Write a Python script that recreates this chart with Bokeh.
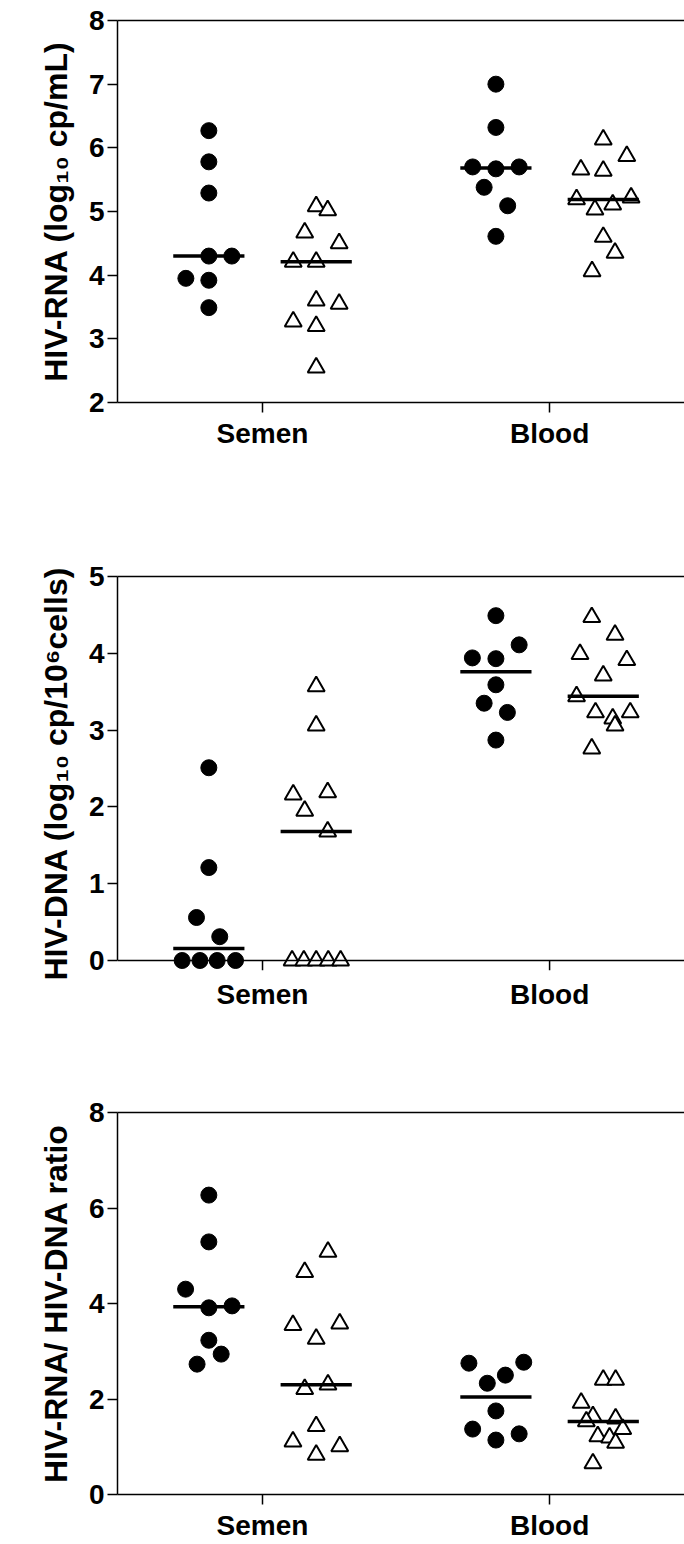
import numpy as np
from bokeh.plotting import figure
from bokeh.models import Range1d, FixedTicker, LinearAxis, Span
from bokeh.layouts import column
from bokeh.embed import file_html
from bokeh.resources import INLINE

# ---------------- data ----------------
categories = ["Semen", "Blood"]

# Panel 1: HIV-RNA (log10 cp/mL)
rna_semen_dot = [6.27, 5.78, 5.29, 4.30, 4.30, 3.95, 3.92, 3.49]
rna_semen_dot_dx = [0, 0, 0, 0, 0.080, -0.080, 0, 0]
rna_semen_tri = [5.08, 5.02, 4.67, 4.50, 4.21, 4.21, 3.60, 3.55, 3.27, 3.20, 2.55]
rna_semen_tri_dx = [0, 0.040, -0.040, 0.080, -0.080, 0, 0, 0.080, -0.080, 0, 0]
rna_blood_dot = [7.00, 6.32, 5.70, 5.67, 5.70, 5.38, 5.09, 4.61]
rna_blood_dot_dx = [0, 0, -0.081, 0, 0.081, -0.041, 0.041, 0]
rna_blood_tri = [6.13, 5.87, 5.66, 5.64, 5.19, 5.22, 5.03, 5.11, 4.60, 4.35, 4.06]
rna_blood_tri_dx = [0, 0.082, -0.078, 0, -0.093, 0.097, -0.029, 0.033, 0, 0.041, -0.039]

# Panel 2: HIV-DNA (log10 cp/10^6 cells)
dna_semen_dot = [2.51, 1.21, 0.56, 0.31, 0, 0, 0, 0]
dna_semen_dot_dx = [0, 0, -0.043, 0.038, -0.093, -0.031, 0.029, 0.093]
dna_semen_tri = [3.57, 3.06, 2.16, 2.19, 1.95, 1.68, 0, 0, 0, 0, 0]
dna_semen_tri_dx = [0, 0, -0.080, 0.040, -0.040, 0.040, -0.084, -0.043, 0, 0.042, 0.085]
dna_blood_dot = [4.49, 4.11, 3.94, 3.93, 3.59, 3.35, 3.23, 2.87]
dna_blood_dot_dx = [0, 0.081, -0.082, 0, 0, -0.041, 0.040, 0]
dna_blood_tri = [4.47, 4.24, 3.99, 3.91, 3.71, 3.44, 3.23, 3.23, 3.15, 3.06, 2.76]
dna_blood_tri_dx = [-0.040, 0.041, -0.081, 0.082, 0, -0.093, -0.027, 0.094, 0.033, 0.041, -0.040]

# Panel 3: HIV-RNA / HIV-DNA ratio
ratio_semen_dot = [6.27, 5.29, 4.30, 3.91, 3.95, 3.23, 2.94, 2.73]
ratio_semen_dot_dx = [0, 0, -0.081, 0, 0.081, 0, 0.043, -0.041]
ratio_semen_tri = [5.08, 4.66, 3.55, 3.58, 3.26, 2.21, 2.30, 1.43, 1.11, 1.01, 0.83]
ratio_semen_tri_dx = [0.041, -0.040, -0.081, 0.082, 0, -0.040, 0.041, 0, -0.081, 0.082, 0]
ratio_blood_dot = [2.75, 2.77, 2.50, 2.33, 1.75, 1.37, 1.27, 1.14]
ratio_blood_dot_dx = [-0.094, 0.097, 0.033, -0.030, 0, -0.081, 0.081, 0]
ratio_blood_tri = [2.40, 2.40, 1.92, 1.64, 1.53, 1.59, 1.37, 1.22, 1.19, 1.08, 0.65]
ratio_blood_tri_dx = [0, 0.043, -0.077, -0.036, -0.059, 0.043, 0.068, -0.019, 0.022, 0.043, -0.036]

y_labels = ["HIV-RNA (log\u2081\u2080 cp/mL)",
            "HIV-DNA (log\u2081\u2080 cp/10\u2076cells)",
            "HIV-RNA/ HIV-DNA ratio"]

# ---------------- styling ----------------
FONT = "Liberation Sans"
GROUP_OFF = 0.187
HALF_W = 0.124
W = 684
X_RANGE = (0.4948, 2.470)


def make_panel(height, yr, yticks, ylabel, b_top, b_bottom, groups,
               zero_axis=False, x_standoff=5):
    p = figure(width=W, height=height, x_range=Range1d(*X_RANGE), y_range=Range1d(*yr),
               output_backend="svg", toolbar_location=None,
               min_border_left=117, min_border_right=0,
               min_border_top=b_top, min_border_bottom=b_bottom)
    p.outline_line_color = None
    p.xgrid.visible = False
    p.ygrid.visible = False
    p.background_fill_color = "white"
    p.border_fill_color = "white"

    # y axis
    ya = p.yaxis[0]
    ya.ticker = FixedTicker(ticks=yticks)
    ya.axis_label = ylabel
    ya.axis_label_text_font = FONT
    ya.axis_label_text_font_style = "bold"
    ya.axis_label_text_font_size = "32px"
    ya.axis_label_text_color = "black"
    ya.axis_label_standoff = 12
    ya.major_label_text_font = FONT
    ya.major_label_text_font_style = "bold"
    ya.major_label_text_font_size = "28px"
    ya.major_label_text_color = "black"
    ya.major_label_standoff = 3
    ya.major_tick_out = 10
    ya.major_tick_in = 0
    ya.minor_tick_out = 0
    ya.minor_tick_in = 0
    ya.axis_line_width = 1.5
    ya.major_tick_line_width = 1.5
    ya.axis_line_color = "black"
    ya.major_tick_line_color = "black"
    ya.bounds = (yticks[0], yticks[-1])

    # x axis
    xa = p.xaxis[0]
    xa.ticker = FixedTicker(ticks=[1, 2])
    xa.major_label_overrides = {i + 1: c for i, c in enumerate(categories)}
    xa.major_label_text_font = FONT
    xa.major_label_text_font_style = "bold"
    xa.major_label_text_font_size = "28px"
    xa.major_label_text_color = "black"
    xa.major_label_standoff = x_standoff
    xa.minor_tick_out = 0
    xa.minor_tick_in = 0
    xa.major_tick_in = 0
    if zero_axis:
        # axis line and ticks drawn at y = 0 (frame extends slightly below zero)
        xa.axis_line_color = None
        xa.major_tick_out = 0
        xa.major_tick_line_color = None
        p.add_layout(Span(location=0, dimension="width", line_color="black", line_width=1.5))
        p.segment(x0=[1, 2], y0=[0, 0], x1=[1, 2], y1=[yr[0], yr[0]],
                  line_color="black", line_width=1.5)
    else:
        xa.major_tick_out = 10
        xa.axis_line_width = 1.5
        xa.major_tick_line_width = 1.5
        xa.axis_line_color = "black"
        xa.major_tick_line_color = "black"

    # top frame line
    top = LinearAxis(ticker=FixedTicker(ticks=[]), major_tick_out=0, major_tick_in=0,
                     minor_tick_out=0, minor_tick_in=0, axis_line_width=1.5,
                     axis_line_color="black", major_label_text_font_size="0px")
    p.add_layout(top, "above")

    # points + medians
    for ci, (dots, dots_dx, tris, tris_dx) in enumerate(groups):
        xc = ci + 1
        xd = [xc - GROUP_OFF + d for d in dots_dx]
        xt = [xc + GROUP_OFF + d for d in tris_dx]
        p.scatter(xd, dots, marker="circle", size=16, fill_color="black", line_color="black")
        p.scatter(xt, tris, marker="triangle", size=17, fill_color="white",
                  line_color="black", line_width=2)
        md = float(np.median(dots))
        mt = float(np.median(tris))
        p.segment(x0=[xc - GROUP_OFF - HALF_W, xc + GROUP_OFF - HALF_W],
                  y0=[md, mt],
                  x1=[xc - GROUP_OFF + HALF_W, xc + GROUP_OFF + HALF_W],
                  y1=[md, mt], line_color="black", line_width=3.5, line_cap="butt")
    return p


p1 = make_panel(500, (2, 8), [2, 3, 4, 5, 6, 7, 8], y_labels[0], 20, 98,
                [(rna_semen_dot, rna_semen_dot_dx, rna_semen_tri, rna_semen_tri_dx),
                 (rna_blood_dot, rna_blood_dot_dx, rna_blood_tri, rna_blood_tri_dx)])
p2 = make_panel(560, (-0.13, 5), [0, 1, 2, 3, 4, 5], y_labels[1], 76, 90,
                [(dna_semen_dot, dna_semen_dot_dx, dna_semen_tri, dna_semen_tri_dx),
                 (dna_blood_dot, dna_blood_dot_dx, dna_blood_tri, dna_blood_tri_dx)],
                zero_axis=True, x_standoff=8)
p3 = make_panel(484, (0, 8), [0, 2, 4, 6, 8], y_labels[2], 52, 50,
                [(ratio_semen_dot, ratio_semen_dot_dx, ratio_semen_tri, ratio_semen_tri_dx),
                 (ratio_blood_dot, ratio_blood_dot_dx, ratio_blood_tri, ratio_blood_tri_dx)])

layout = column(p1, p2, p3, spacing=0)
open("out.html", "w").write(file_html(layout, INLINE))
